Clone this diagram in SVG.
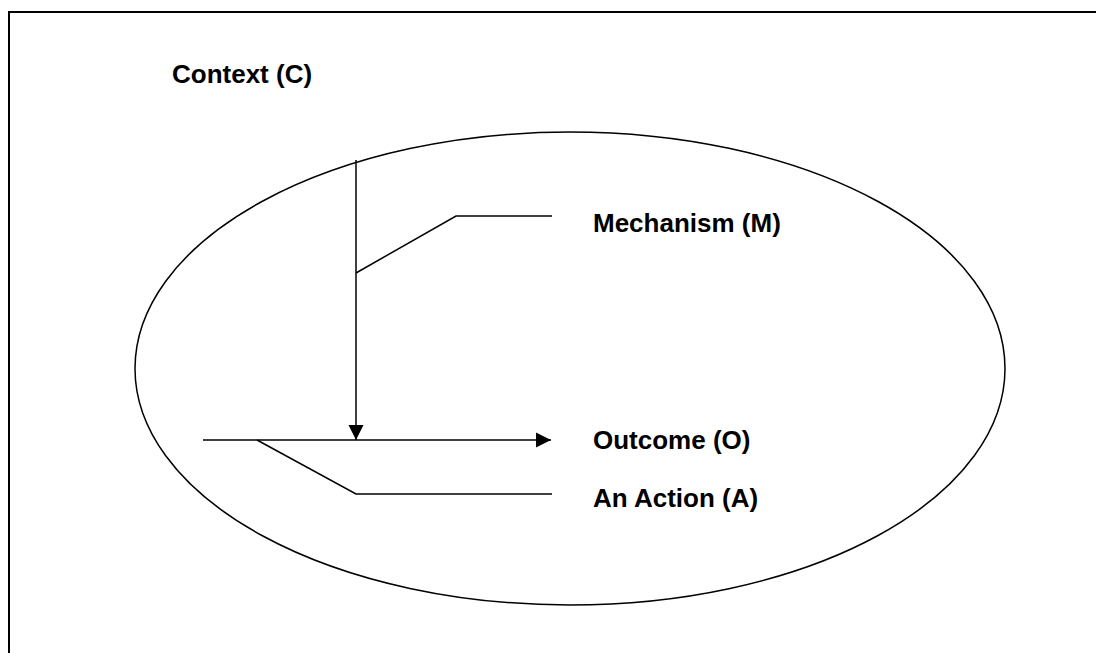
<svg xmlns="http://www.w3.org/2000/svg" width="1096" height="653" viewBox="0 0 1096 653">
<style>
.ln{fill:none;stroke:#000;stroke-width:1.5}
.lbl{font-family:"Liberation Sans",Arial,sans-serif;font-weight:bold;font-size:26px;fill:#000}
</style>
<defs>
<marker id="ah" markerWidth="16" markerHeight="16" viewBox="0 0 16 16" refX="15" refY="8" orient="auto" markerUnits="userSpaceOnUse">
<path d="M0,0.5 L15,8 L0,15.5 Z" fill="#000"/>
</marker>
</defs>
<rect width="1096" height="653" fill="#fff"/>
<g id="frame">
<rect x="9" y="12" width="1100" height="660" fill="none" stroke="#000" stroke-width="2"/>
</g>
<g id="context">
<ellipse cx="570" cy="368.5" rx="435" ry="236.5" class="ln"/>
<text x="172" y="83" class="lbl">Context (C)</text>
</g>
<g id="mechanism">
<text x="593" y="232" class="lbl">Mechanism (M)</text>
</g>
<g id="outcome">
<text x="593" y="449" class="lbl">Outcome (O)</text>
</g>
<g id="action">
<text x="593" y="507" class="lbl">An Action (A)</text>
</g>
<g id="connectors">
<line x1="356" y1="160" x2="356" y2="440" class="ln" marker-end="url(#ah)"/>
<line x1="203" y1="440" x2="551" y2="440" class="ln" marker-end="url(#ah)"/>
<polyline points="356,273 456,216 552,216" class="ln"/>
<polyline points="257,440 356,494 552,494" class="ln"/>
</g>
</svg>
